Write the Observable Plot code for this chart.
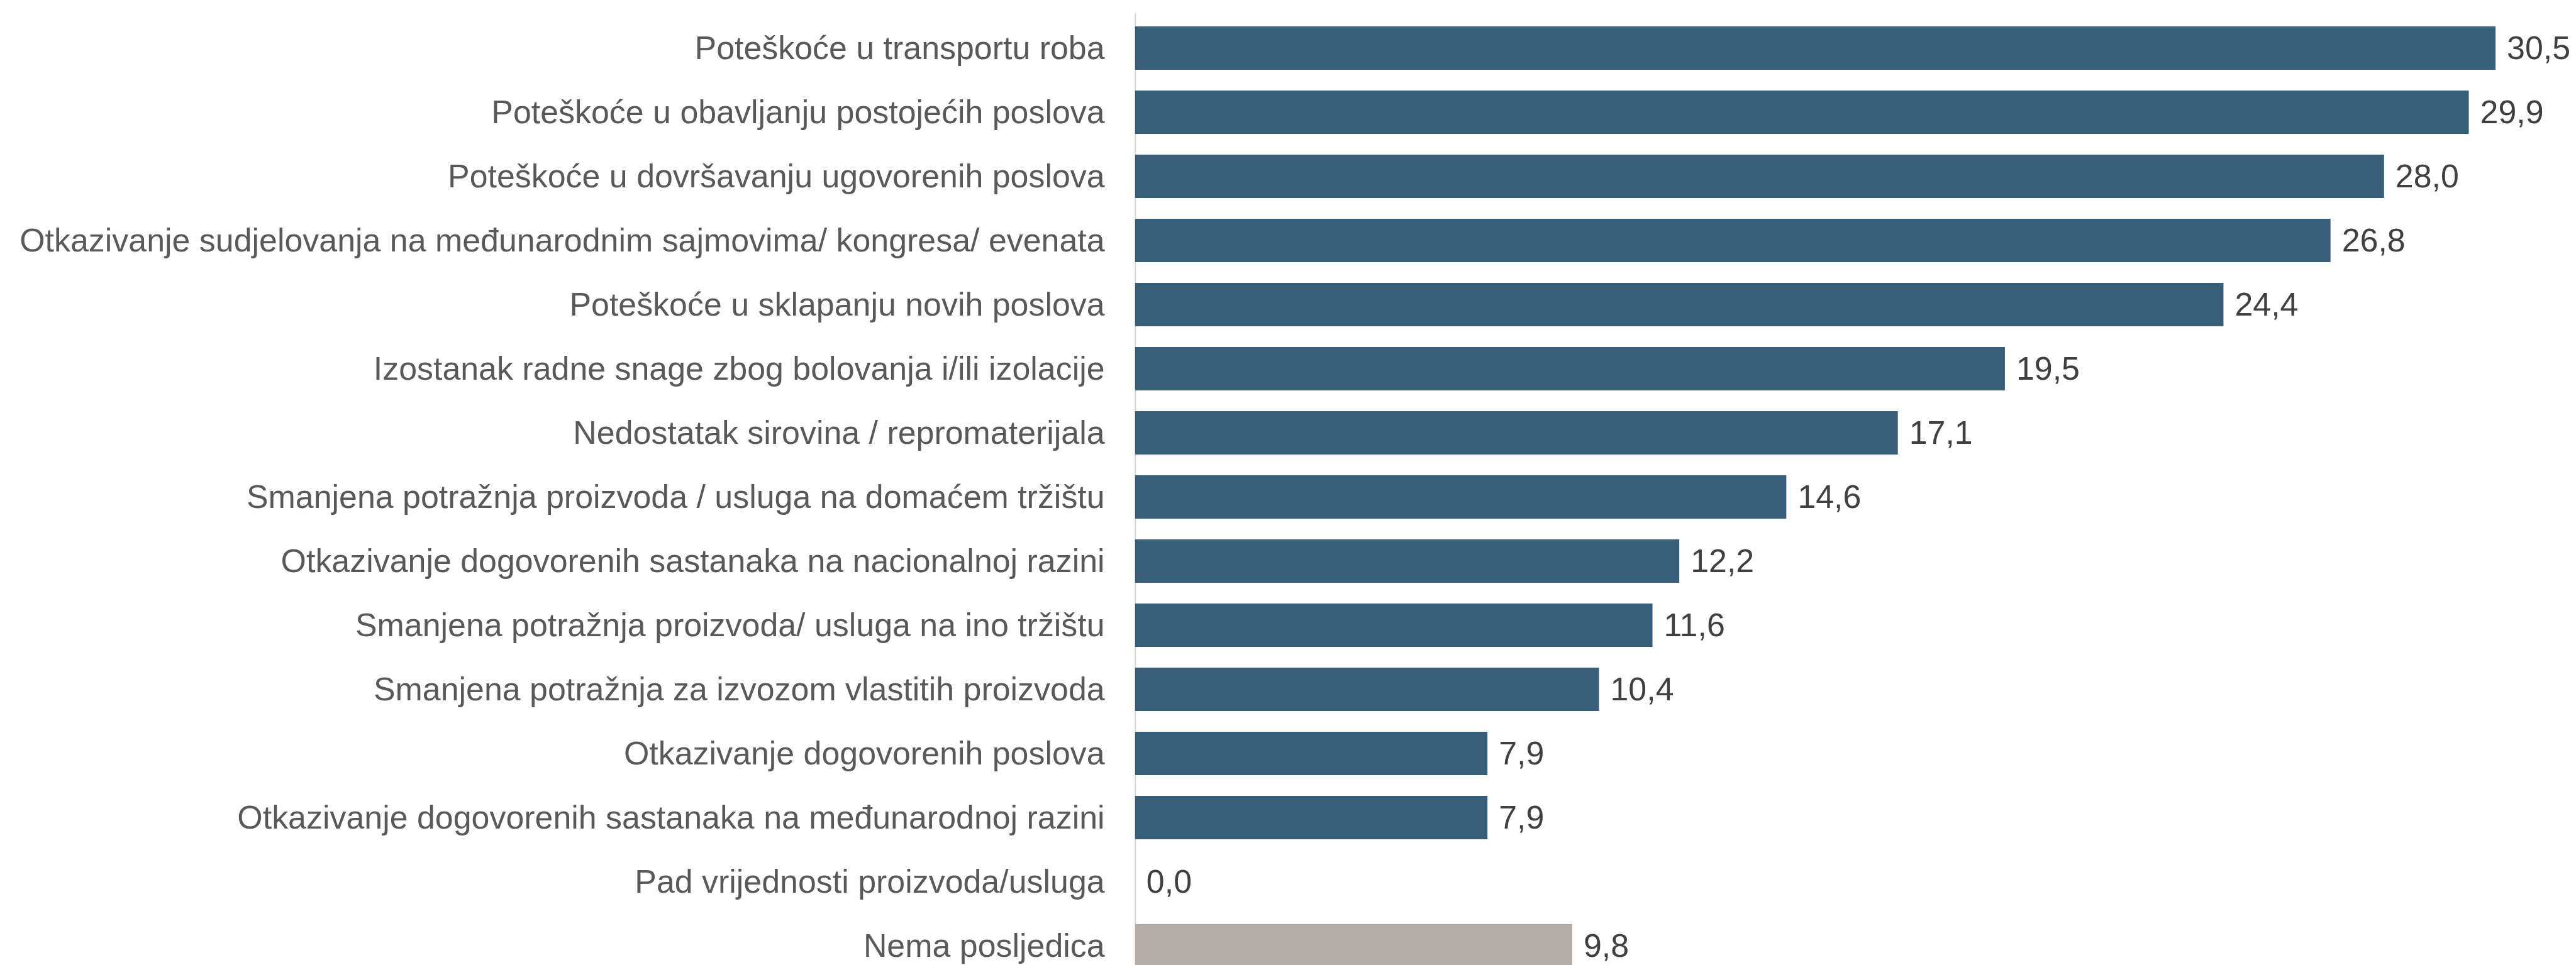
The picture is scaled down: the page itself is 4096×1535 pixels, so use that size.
<!DOCTYPE html>
<html>
<head>
<meta charset="utf-8">
<script src="https://cdn.jsdelivr.net/npm/d3@7"></script>
<script src="https://cdn.jsdelivr.net/npm/@observablehq/plot@0.6"></script>
<style>
  html, body { margin: 0; padding: 0; background: #ffffff; overflow: hidden; }
  #chart svg { display: block; }
</style>
</head>
<body>
<div id="chart"></div>
<script>
const categories = [
  "Poteškoće u transportu roba",
  "Poteškoće u obavljanju postojećih poslova",
  "Poteškoće u dovršavanju ugovorenih poslova",
  "Otkazivanje sudjelovanja na međunarodnim sajmovima/ kongresa/ evenata",
  "Poteškoće u sklapanju novih poslova",
  "Izostanak radne snage zbog bolovanja i/ili izolacije",
  "Nedostatak sirovina / repromaterijala",
  "Smanjena potražnja proizvoda / usluga na domaćem tržištu",
  "Otkazivanje dogovorenih sastanaka na nacionalnoj razini",
  "Smanjena potražnja proizvoda/ usluga na ino tržištu",
  "Smanjena potražnja za izvozom vlastitih proizvoda",
  "Otkazivanje dogovorenih poslova",
  "Otkazivanje dogovorenih sastanaka na međunarodnoj razini",
  "Pad vrijednosti proizvoda/usluga",
  "Nema posljedica"
];
const values = [30.5, 29.9, 28.0, 26.8, 24.4, 19.5, 17.1, 14.6, 12.2, 11.6, 10.4, 7.9, 7.9, 0.0, 9.8];
const groups = ["posljedica","posljedica","posljedica","posljedica","posljedica","posljedica","posljedica",
                "posljedica","posljedica","posljedica","posljedica","posljedica","posljedica","posljedica","nema"];

const data = categories.map((c, i) => ({category: c, value: values[i], group: groups[i]}));

const S = 0.974;
const W = 4096, H = 1535;
const axisX = 1853 * S;
const pxPerUnit = 72.82 * S;
const xMax = 32;
const firstTop = 37 * S;
const step = 105.5 * S;
const padInner = 0.327;
const rangeLen = step * (categories.length - padInner);
const fontSize = 53.3 * S;
const fmt = v => v.toFixed(1).replace(".", ",");

const chart = Plot.plot({
  width: W,
  height: H,
  marginLeft: axisX,
  marginRight: W - axisX - xMax * pxPerUnit,
  marginTop: 20 * S,
  marginBottom: 0,
  style: {
    fontFamily: "'Liberation Sans', Arial, sans-serif",
    fontSize: fontSize + "px",
    background: "#ffffff",
    overflow: "visible"
  },
  x: {domain: [0, xMax], axis: null},
  y: {domain: categories, range: [firstTop, firstTop + rangeLen], paddingInner: padInner, paddingOuter: 0, axis: null},
  color: {domain: ["posljedica", "nema"], range: ["#375d77", "#b3aca7"]},
  marks: [
    Plot.ruleX([0], {stroke: "#d9d9d9", strokeWidth: 2 * S}),
    Plot.barX(data, {x: "value", y: "category", fill: "group"}),
    Plot.axisY({tickSize: 0, tickPadding: 50 * S, fill: "#595959", fontSize: fontSize, label: null}),
    Plot.text(data, {x: "value", y: "category", text: d => fmt(d.value), textAnchor: "start", dx: 18 * S, fill: "#404040", fontSize: fontSize})
  ]
});
document.getElementById("chart").appendChild(chart);
</script>
</body>
</html>
